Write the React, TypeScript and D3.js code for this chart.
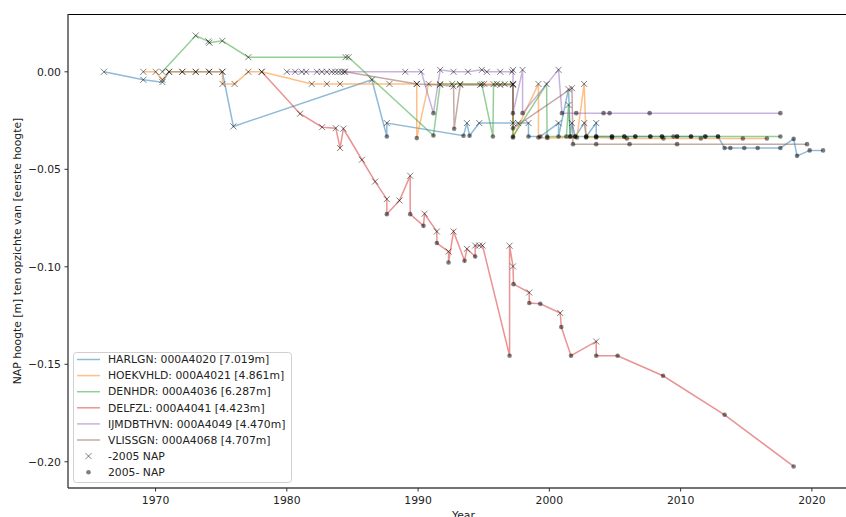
import * as d3 from "d3";

type Pt = [number, number, "x" | "o"];

// [year, NAP height relative to first height (m), marker: x = -2005 NAP, o = 2005- NAP]
const HARLGN: Pt[] = [
  [1966.07, 0, "x"], [1969.07, -0.0041, "x"], [1970.52, -0.0053, "x"], [1971.03, 0, "x"],
  [1972.04, 0, "x"], [1973.06, 0, "x"], [1974.08, 0, "x"], [1975.09, 0, "x"],
  [1975.93, -0.028, "x"], [1986.48, -0.0041, "x"], [1987.62, -0.0332, "o"], [1987.62, -0.0263, "x"],
  [1993.46, -0.0328, "o"], [1993.72, -0.0263, "x"], [1993.92, -0.0328, "o"], [1994.66, -0.0263, "x"],
  [1997.23, -0.0263, "x"], [1997.63, -0.0263, "x"], [1998.41, -0.0263, "x"], [1998.41, -0.0332, "o"],
  [1999.31, -0.0332, "o"], [2000.7, -0.0263, "x"], [2000.7, -0.0332, "o"], [2001.46, -0.0089, "x"],
  [2001.59, -0.0332, "o"], [2001.72, -0.0263, "x"], [2001.97, -0.0332, "o"], [2002.66, -0.0263, "x"],
  [2002.81, -0.0332, "o"], [2003.57, -0.0263, "x"], [2003.57, -0.0332, "o"], [2004.77, -0.0332, "o"],
  [2005.71, -0.0332, "o"], [2006.55, -0.0332, "o"], [2007.69, -0.0332, "o"], [2008.58, -0.0332, "o"],
  [2009.73, -0.0332, "o"], [2010.79, -0.0332, "o"], [2011.88, -0.0332, "o"], [2012.85, -0.0332, "o"],
  [2013.35, -0.0391, "o"], [2013.79, -0.0391, "o"], [2014.85, -0.0391, "o"], [2015.87, -0.0391, "o"],
  [2017.6, -0.0391, "o"], [2018.61, -0.0344, "o"], [2018.87, -0.0431, "o"], [2019.83, -0.0403, "o"],
  [2020.85, -0.0403, "o"],
];

const HOEKVHLD: Pt[] = [
  [1969.07, 0, "x"], [1970.01, 0, "x"], [1970.52, -0.0041, "x"], [1971.03, 0, "x"],
  [1972.04, 0, "x"], [1973.06, 0, "x"], [1974.08, 0, "x"], [1975.09, 0, "x"],
  [1975.1, -0.0062, "x"], [1976.02, -0.0062, "x"], [1977.07, 0, "x"], [1978.09, 0, "x"],
  [1981.9, -0.0062, "x"], [1983.05, -0.0062, "x"], [1984.06, -0.0062, "x"], [1987.82, -0.0062, "x"],
  [1989.9, -0.0062, "x"], [1989.9, -0.034, "o"], [1990.8, -0.0062, "x"], [1992.6, -0.0062, "x"],
  [1995.04, -0.0062, "x"], [1996.0, -0.0062, "x"], [1997.23, -0.0062, "x"], [1997.23, -0.0337, "o"],
  [1999.17, -0.0062, "x"], [1999.17, -0.0337, "o"], [1999.85, -0.0339, "o"], [2002.1, -0.0337, "o"],
  [2002.65, -0.0062, "x"], [2002.8, -0.0337, "o"], [2003.57, -0.0337, "o"], [2004.77, -0.0339, "o"],
  [2005.9, -0.0342, "o"], [2008.69, -0.0342, "o"], [2011.54, -0.0342, "o"], [2014.74, -0.0342, "o"],
  [2016.57, -0.0342, "o"],
];

const DENHDR: Pt[] = [
  [1970.52, 0, "x"], [1973.06, 0.0186, "x"], [1974.02, 0.0156, "x"], [1974.1, 0.0149, "x"],
  [1975.09, 0.0159, "x"], [1977.07, 0.0075, "x"], [1984.48, 0.0075, "x"], [1984.7, 0.0075, "x"],
  [1991.17, -0.0327, "o"], [1991.68, -0.0063, "x"], [1993.2, -0.0063, "x"], [1994.85, -0.0063, "x"],
  [1995.7, -0.0332, "o"], [1995.75, -0.0063, "x"], [1996.6, -0.0063, "x"], [1997.23, -0.0063, "x"],
  [1997.23, -0.0332, "o"], [1999.79, -0.0063, "x"], [1999.83, -0.0332, "o"], [2001.3, -0.0332, "o"],
  [2001.46, -0.017, "x"], [2001.59, -0.0332, "o"], [2001.97, -0.0332, "o"], [2002.81, -0.0332, "o"],
  [2003.57, -0.0332, "o"], [2004.77, -0.0332, "o"], [2005.71, -0.0332, "o"], [2006.55, -0.0332, "o"],
  [2007.69, -0.0332, "o"], [2008.58, -0.0332, "o"], [2009.46, -0.0332, "o"], [2009.73, -0.0332, "o"],
  [2010.79, -0.0332, "o"], [2011.88, -0.0332, "o"], [2012.85, -0.0332, "o"], [2017.6, -0.0332, "o"],
];

const DELFZL: Pt[] = [
  [1978.09, 0, "x"], [1981.01, -0.0215, "x"], [1982.69, -0.0284, "x"], [1983.73, -0.0289, "x"],
  [1984.06, -0.0391, "x"], [1984.31, -0.0292, "x"], [1985.72, -0.0451, "x"], [1986.73, -0.0563, "x"],
  [1987.62, -0.0653, "x"], [1987.62, -0.073, "o"], [1988.58, -0.066, "x"], [1989.4, -0.0533, "x"],
  [1989.4, -0.073, "o"], [1990.41, -0.079, "o"], [1990.49, -0.0728, "x"], [1991.43, -0.0819, "x"],
  [1991.43, -0.0878, "o"], [1992.32, -0.0922, "x"], [1992.32, -0.0978, "o"], [1992.7, -0.0819, "x"],
  [1993.54, -0.0969, "o"], [1993.72, -0.0908, "x"], [1994.35, -0.0947, "o"], [1994.35, -0.0891, "x"],
  [1994.66, -0.0891, "x"], [1994.91, -0.0891, "x"], [1996.97, -0.1456, "o"], [1996.97, -0.0892, "x"],
  [1997.23, -0.0998, "x"], [1997.27, -0.1089, "o"], [1998.47, -0.1132, "x"], [1998.47, -0.1186, "o"],
  [1999.31, -0.119, "o"], [2000.83, -0.1237, "x"], [2000.91, -0.1309, "o"], [2001.65, -0.1456, "o"],
  [2003.57, -0.1383, "x"], [2003.57, -0.1456, "o"], [2005.2, -0.1456, "o"], [2008.66, -0.1559, "o"],
  [2013.35, -0.1759, "o"], [2018.61, -0.2024, "o"],
];

const IJMDBTHVN: Pt[] = [
  [1980.0, 0, "x"], [1980.63, 0, "x"], [1981.14, 0, "x"], [1981.47, 0, "x"],
  [1982.29, 0, "x"], [1982.67, 0, "x"], [1983.05, 0, "x"], [1983.43, 0, "x"],
  [1983.68, 0, "x"], [1983.93, 0, "x"], [1984.18, 0, "x"], [1984.37, 0, "x"],
  [1989.02, 0, "x"], [1990.24, 0, "x"], [1991.17, -0.0212, "o"], [1991.68, 0.001, "x"],
  [1992.7, 0, "x"], [1993.8, 0, "x"], [1994.86, 0.001, "x"], [1995.24, 0, "x"],
  [1996.26, 0, "x"], [1997.15, 0, "x"], [1997.23, 0.001, "x"], [1997.23, -0.0212, "o"],
  [1997.96, 0.001, "x"], [1997.96, -0.0212, "o"], [2000.7, 0.001, "x"], [2000.96, -0.0212, "o"],
  [2002.05, -0.0212, "o"], [2004.13, -0.0212, "o"], [2004.59, -0.0212, "o"], [2007.64, -0.0212, "o"],
  [2017.6, -0.0212, "o"],
];

const VLISSGN: Pt[] = [
  [1984.44, 0, "x"], [1989.91, -0.0062, "x"], [1991.68, -0.0067, "x"], [1992.7, -0.0075, "x"],
  [1992.75, -0.0292, "o"], [1993.21, -0.0067, "x"], [1994.73, -0.0067, "x"], [1996.26, -0.0067, "x"],
  [1997.23, -0.0067, "x"], [1997.23, -0.029, "o"], [2001.72, -0.0084, "x"], [2001.8, -0.0371, "o"],
  [2003.57, -0.0371, "o"], [2006.11, -0.0371, "o"], [2009.73, -0.0371, "o"], [2019.63, -0.0371, "o"],
];

const SERIES_LABELS = [
  "HARLGN: 000A4020 [7.019m]",
  "HOEKVHLD: 000A4021 [4.861m]",
  "DENHDR: 000A4036 [6.287m]",
  "DELFZL: 000A4041 [4.423m]",
  "IJMDBTHVN: 000A4049 [4.470m]",
  "VLISSGN: 000A4068 [4.707m]",
];
const SERIES = [HARLGN, HOEKVHLD, DENHDR, DELFZL, IJMDBTHVN, VLISSGN];
const COLORS = ["#1f77b4", "#ff7f0e", "#2ca02c", "#d62728", "#9467bd", "#8c564b"];
const X_TICKS = [1970, 1980, 1990, 2000, 2010, 2020];
const Y_TICKS = [0, -0.05, -0.1, -0.15, -0.2];

const W = 846;
const H = 517;
const FONT = "DejaVu Sans, sans-serif";
const FS = 10.8;

export default function App() {
  const left = 68, right = 859, top = 14, bottom = 488;

  // matplotlib style 5% margins
  const all = SERIES.flat();
  const [x0, x1] = d3.extent(all, (d) => d[0]) as [number, number];
  const [y0, y1] = d3.extent(all, (d) => d[1]) as [number, number];
  const mx = (x1 - x0) * 0.05, my = (y1 - y0) * 0.05;
  const x = d3.scaleLinear().domain([x0 - mx, x1 + mx]).range([left, right]);
  const y = d3.scaleLinear().domain([y0 - my, y1 + my]).range([bottom, top]);

  const line = d3.line<Pt>().x((d) => x(d[0])).y((d) => y(d[1]));
  const fmt = d3.format(".2f");
  const xPath = "M-3,-3L3,3M-3,3L3,-3";

  const legendRow = (i: number) => 359.5 + i * 16.1;

  return (
    <svg width={W} height={H} style={{ position: "absolute", left: 0, top: 0, fontFamily: FONT }}>
      <rect width={W} height={H} fill="#fff" />

      {/* series lines */}
      {SERIES.map((s, i) => (
        <path key={i} d={line(s) ?? ""} fill="none" stroke={COLORS[i]} strokeWidth={1.5} strokeOpacity={0.5} />
      ))}

      {/* markers */}
      {SERIES.map((s, i) => (
        <g key={"m" + i}>
          {s.map((d, j) =>
            d[2] === "x" ? (
              <path key={j} d={xPath} transform={`translate(${x(d[0])},${y(d[1])})`} stroke="#000" strokeOpacity={0.5} strokeWidth={1} fill="none" />
            ) : (
              <circle key={j} cx={x(d[0])} cy={y(d[1])} r={2.3} fill="#000" fillOpacity={0.5} />
            )
          )}
        </g>
      ))}

      {/* spines */}
      <line x1={left} x2={W} y1={top + 0.5} y2={top + 0.5} stroke="#000" strokeWidth={1} />
      <line x1={left} x2={left} y1={top} y2={bottom} stroke="#444" strokeWidth={1.4} />
      <line x1={left} x2={W} y1={bottom} y2={bottom} stroke="#444" strokeWidth={1.4} />

      {/* x axis */}
      {X_TICKS.map((t) => (
        <g key={t} transform={`translate(${x(t)},${bottom})`}>
          <line y1={0} y2={3.5} stroke="#333" strokeWidth={1} />
          <text y={15.5} textAnchor="middle" fontSize={FS} fill="#222">{t}</text>
        </g>
      ))}
      <text x={(left + right) / 2} y={518.5} textAnchor="middle" fontSize={FS} fill="#222">Year</text>

      {/* y axis */}
      {Y_TICKS.map((t) => (
        <g key={t} transform={`translate(${left},${y(t)})`}>
          <line x1={0} x2={-3.5} stroke="#333" strokeWidth={1} />
          <text x={-7} dy="0.35em" textAnchor="end" fontSize={FS} fill="#222">{fmt(t)}</text>
        </g>
      ))}
      <text transform={`translate(21,${(top + bottom) / 2}) rotate(-90)`} textAnchor="middle" fontSize={FS} fill="#222">
        NAP hoogte [m] ten opzichte van [eerste hoogte]
      </text>

      {/* legend */}
      <rect x={73.5} y={352.5} width={218} height={130} rx={3} fill="#fff" fillOpacity={0.8} stroke="#d0d0d0" strokeWidth={1} />
      {SERIES_LABELS.map((lab, i) => (
        <g key={lab}>
          <line x1={77} x2={100} y1={legendRow(i)} y2={legendRow(i)} stroke={COLORS[i]} strokeWidth={1.5} strokeOpacity={0.5} />
          <text x={108} y={legendRow(i)} dy="0.35em" fontSize={FS} fill="#222">{lab}</text>
        </g>
      ))}
      <path d={xPath} transform={`translate(88.5,${legendRow(6)})`} stroke="#000" strokeOpacity={0.5} strokeWidth={1} fill="none" />
      <text x={108} y={legendRow(6)} dy="0.35em" fontSize={FS} fill="#222">-2005 NAP</text>
      <circle cx={88.5} cy={legendRow(7)} r={2.3} fill="#000" fillOpacity={0.5} />
      <text x={108} y={legendRow(7)} dy="0.35em" fontSize={FS} fill="#222">2005- NAP</text>
    </svg>
  );
}
